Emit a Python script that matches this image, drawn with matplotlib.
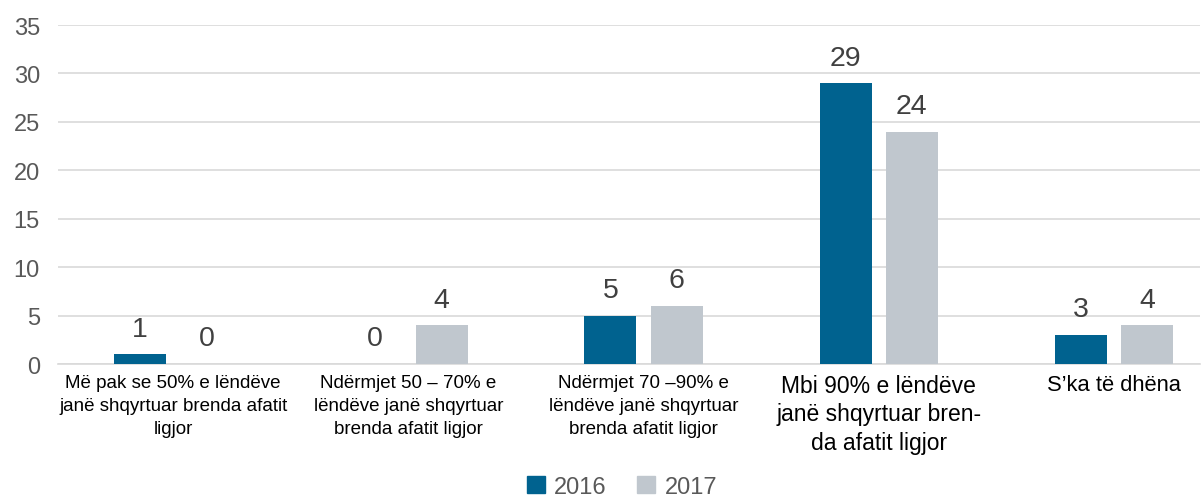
import matplotlib
matplotlib.use("Agg")
import matplotlib.pyplot as plt
import numpy as np
from matplotlib.patches import Patch

categories = [
    "Më pak se 50% e lëndëve\njanë shqyrtuar brenda afatit\nligjor",
    "Ndërmjet 50 – 70% e\nlëndëve janë shqyrtuar\nbrenda afatit ligjor",
    "Ndërmjet 70 –90% e\nlëndëve janë shqyrtuar\nbrenda afatit ligjor",
    "Mbi 90% e lëndëve\njanë shqyrtuar bren-\nda afatit ligjor",
    "S’ka të dhëna",
]
series_names = ["2016", "2017"]
values_2016 = [1, 0, 5, 29, 3]
values_2017 = [0, 4, 6, 24, 4]
yticks = [0, 5, 10, 15, 20, 25, 30, 35]

plt.rcParams['font.family'] = ['Liberation Sans', 'DejaVu Sans']

c2016 = "#00628F"
c2017 = "#C0C7CE"

fig = plt.figure(figsize=(12.03, 5.02), dpi=100)
ax = fig.add_axes([58/1203, 1 - 365/502, (1200 - 58)/1203, (365 - 26)/502])

x = np.arange(len(categories))
w = 0.221
off = 0.141
b1 = ax.bar(x - off, values_2016, w, color=c2016, zorder=3)
b2 = ax.bar(x + off, values_2017, w, color=c2017, zorder=3)

for bars, vals in ((b1, values_2016), (b2, values_2017)):
    for rect, v in zip(bars, vals):
        ax.annotate(str(v), (rect.get_x() + rect.get_width() / 2, v),
                    xytext=(0, 9), textcoords="offset points",
                    ha="center", va="bottom", fontsize=20.5, color="#404040")

ax.set_xlim(-0.49, 4.366)
ax.set_ylim(0, 35)
ax.set_yticks(yticks)
ax.set_yticklabels([str(t) for t in yticks], fontsize=17, color="#595959")
ax.yaxis.grid(True, color="#D9D9D9", linewidth=1.2, zorder=0)
ax.set_axisbelow(True)
ax.tick_params(axis="y", length=0, pad=13)
ax.tick_params(axis="x", length=0, pad=7)
ax.set_xticks(x)
ax.set_xticklabels(categories, fontsize=13.5, color="#000000", linespacing=1.47)
lbls = ax.get_xticklabels()
lbls[3].set_fontsize(16.5)
lbls[3].set_linespacing(1.32)
lbls[4].set_fontsize(15.8)
for s in ("top", "right", "left"):
    ax.spines[s].set_visible(False)
ax.spines["bottom"].set_color("#D9D9D9")
ax.spines["bottom"].set_linewidth(1.2)

handles = [Patch(color=c2016), Patch(color=c2017)]
fig.legend(handles, series_names, loc="lower center", ncol=2,
           bbox_to_anchor=(622/1203, -0.036), frameon=False,
           fontsize=17, handlelength=0.75, handleheight=0.75,
           handletextpad=0.4, columnspacing=1.3, labelcolor="#595959")

fig.savefig("out.png", dpi=100)
